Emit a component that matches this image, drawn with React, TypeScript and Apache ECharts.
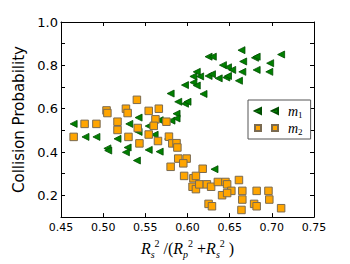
import React, { useEffect, useRef } from "react";
import * as echarts from "echarts";

// m1 (green left-pointing triangles): [x, y]
const m1Points: [number, number][] = [
  [0.465, 0.530], [0.479, 0.470], [0.492, 0.470], [0.505, 0.417], [0.506, 0.407],
  [0.517, 0.461], [0.531, 0.530], [0.529, 0.421], [0.527, 0.399], [0.540, 0.361],
  [0.542, 0.559], [0.542, 0.493], [0.554, 0.520], [0.554, 0.410], [0.561, 0.480],
  [0.567, 0.402], [0.577, 0.460], [0.580, 0.670], [0.581, 0.545], [0.567, 0.547],
  [0.587, 0.577], [0.587, 0.555], [0.589, 0.632], [0.597, 0.623], [0.600, 0.632],
  [0.597, 0.709], [0.607, 0.721], [0.611, 0.707], [0.619, 0.668], [0.611, 0.770],
  [0.607, 0.749], [0.615, 0.749], [0.625, 0.751], [0.629, 0.759], [0.637, 0.740],
  [0.646, 0.744], [0.648, 0.751], [0.625, 0.840], [0.630, 0.840], [0.642, 0.801],
  [0.648, 0.791], [0.653, 0.779], [0.664, 0.870], [0.666, 0.818], [0.665, 0.770],
  [0.661, 0.729], [0.680, 0.835], [0.682, 0.840], [0.682, 0.779], [0.698, 0.810],
  [0.697, 0.770], [0.711, 0.850], [0.632, 0.321],
];

// m2 (orange squares): [x, y]
const m2Points: [number, number][] = [
  [0.465, 0.470], [0.478, 0.530], [0.492, 0.530], [0.504, 0.592], [0.505, 0.580],
  [0.517, 0.540], [0.517, 0.502], [0.527, 0.600], [0.529, 0.580], [0.530, 0.470],
  [0.540, 0.641], [0.541, 0.511], [0.543, 0.440], [0.554, 0.590], [0.554, 0.481],
  [0.566, 0.600], [0.562, 0.551], [0.560, 0.521], [0.575, 0.540], [0.565, 0.451],
  [0.578, 0.471], [0.582, 0.440], [0.587, 0.441], [0.588, 0.421], [0.589, 0.370],
  [0.599, 0.370], [0.595, 0.348], [0.580, 0.332], [0.618, 0.323], [0.596, 0.290],
  [0.607, 0.279], [0.610, 0.290], [0.606, 0.240], [0.610, 0.229], [0.614, 0.251],
  [0.623, 0.251], [0.628, 0.240], [0.636, 0.262], [0.645, 0.262], [0.647, 0.251],
  [0.652, 0.221], [0.641, 0.201], [0.647, 0.211], [0.661, 0.271], [0.665, 0.221],
  [0.665, 0.181], [0.682, 0.221], [0.696, 0.221], [0.697, 0.181], [0.625, 0.161],
  [0.629, 0.150], [0.664, 0.133], [0.679, 0.161], [0.682, 0.150], [0.711, 0.141],
];

const seriesNames = ["m1", "m2"];
const xTickLabels = ["0.45", "0.50", "0.55", "0.60", "0.65", "0.70", "0.75"];
const yTickLabels = ["0.2", "0.4", "0.6", "0.8", "1.0"];

const TRI = "path://M0,5 L10,0 L10,10 Z";
const SQ = "path://M0,0 L10,0 L10,10 L0,10 Z";
const LEG_TRI = "path://M0,3 L6,0 L6,6 Z M17,3 L23,0 L23,6 Z";
const LEG_SQ = "path://M0,0 L6,0 L6,6 L0,6 Z M17,0 L23,0 L23,6 L17,6 Z";

const SANS = "DejaVu Sans";
const MATH = "Liberation Serif";

export default function App() {
  const ref = useRef<HTMLDivElement>(null);
  useEffect(() => {
    if (!ref.current) return;
    const chart = echarts.init(ref.current, undefined, { renderer: "svg" });
    const axisLine = { show: true, lineStyle: { color: "#000", width: 1 } };
    const tick = { show: true, inside: true, length: 4, lineStyle: { color: "#000", width: 1 } };
    const mathRich = {
      r: { fontFamily: MATH, fontStyle: "italic", fontSize: 16, lineHeight: 21, color: "#000" },
      n: { fontFamily: MATH, fontSize: 16, lineHeight: 21, color: "#000" },
      sup: { fontFamily: MATH, fontSize: 10, lineHeight: 10, verticalAlign: "top", color: "#000" },
      sub: { fontFamily: MATH, fontStyle: "italic", fontSize: 10, lineHeight: 8, verticalAlign: "bottom", color: "#000" },
    };
    chart.setOption({
      animation: false,
      backgroundColor: "#fff",
      grid: { left: 61, top: 22, right: 36, bottom: 45, containLabel: false },
      legend: {
        orient: "vertical",
        left: 248,
        top: 100,
        padding: [4, 8, 3, 6],
        itemGap: 2,
        itemWidth: 23,
        itemHeight: 6,
        backgroundColor: "#fff",
        borderColor: "#555",
        borderWidth: 1,
        borderRadius: 0,
        data: [
          { name: seriesNames[0], icon: LEG_TRI },
          { name: seriesNames[1], icon: LEG_SQ },
        ],
        formatter: (name: string) => `{m|m}{s|${name.slice(1)}}`,
        textStyle: {
          rich: {
            m: { fontFamily: MATH, fontStyle: "italic", fontSize: 14, lineHeight: 16, color: "#000", padding: [0, 0, 0, 5] },
            s: { fontFamily: MATH, fontSize: 9, lineHeight: 6, verticalAlign: "bottom", color: "#000" },
          },
        },
      },
      xAxis: [
        {
          type: "value",
          min: 0.45,
          max: 0.75,
          interval: 0.05,
          position: "bottom",
          axisLine,
          axisTick: tick,
          splitLine: { show: false },
          axisLabel: {
            margin: 5,
            fontFamily: SANS,
            fontSize: 11,
            color: "#000",
            formatter: (v: number) => {
              const s = v.toFixed(2);
              return xTickLabels.includes(s) ? s : "";
            },
          },
          name: "{r|R}{sub|s}{sup|2}{n| /(}{r|R}{sub|p}{sup|2}{n| +}{r|R}{sub|s}{sup|2}{n| )}",
          nameLocation: "middle",
          nameGap: 13,
          nameTextStyle: { rich: mathRich, verticalAlign: "top" },
        },
        {
          type: "value",
          min: 0.45,
          max: 0.75,
          interval: 0.05,
          position: "top",
          axisLine,
          axisTick: tick,
          splitLine: { show: false },
          axisLabel: { show: false },
        },
      ],
      yAxis: [
        {
          type: "value",
          min: 0.1,
          max: 1.0,
          interval: 0.1,
          position: "left",
          axisLine,
          axisTick: tick,
          splitLine: { show: false },
          axisLabel: {
            margin: 3,
            fontFamily: SANS,
            fontSize: 13,
            color: "#000",
            formatter: (v: number) => {
              const s = v.toFixed(1);
              return yTickLabels.includes(s) ? s : "";
            },
          },
          name: "Collision Probability",
          nameLocation: "middle",
          nameGap: 26,
          nameTextStyle: { fontFamily: SANS, fontSize: 15, color: "#000" },
        },
        {
          type: "value",
          min: 0.1,
          max: 1.0,
          interval: 0.1,
          position: "right",
          axisLine,
          axisTick: tick,
          splitLine: { show: false },
          axisLabel: { show: false },
        },
      ],
      series: [
        {
          name: seriesNames[0],
          type: "scatter",
          symbol: TRI,
          symbolSize: 7,
          data: m1Points,
          itemStyle: { color: "#008000", borderColor: "#004d00", borderWidth: 0.8, opacity: 1 },
        },
        {
          name: seriesNames[1],
          type: "scatter",
          symbol: SQ,
          symbolSize: 7.5,
          data: m2Points,
          itemStyle: { color: "#FFA500", borderColor: "#7a6a50", borderWidth: 1, opacity: 1 },
        },
      ],
    });
    return () => chart.dispose();
  }, []);
  return (
    <div
      ref={ref}
      style={{ position: "fixed", left: 0, top: 0, width: 350, height: 264, background: "#fff" }}
    />
  );
}
